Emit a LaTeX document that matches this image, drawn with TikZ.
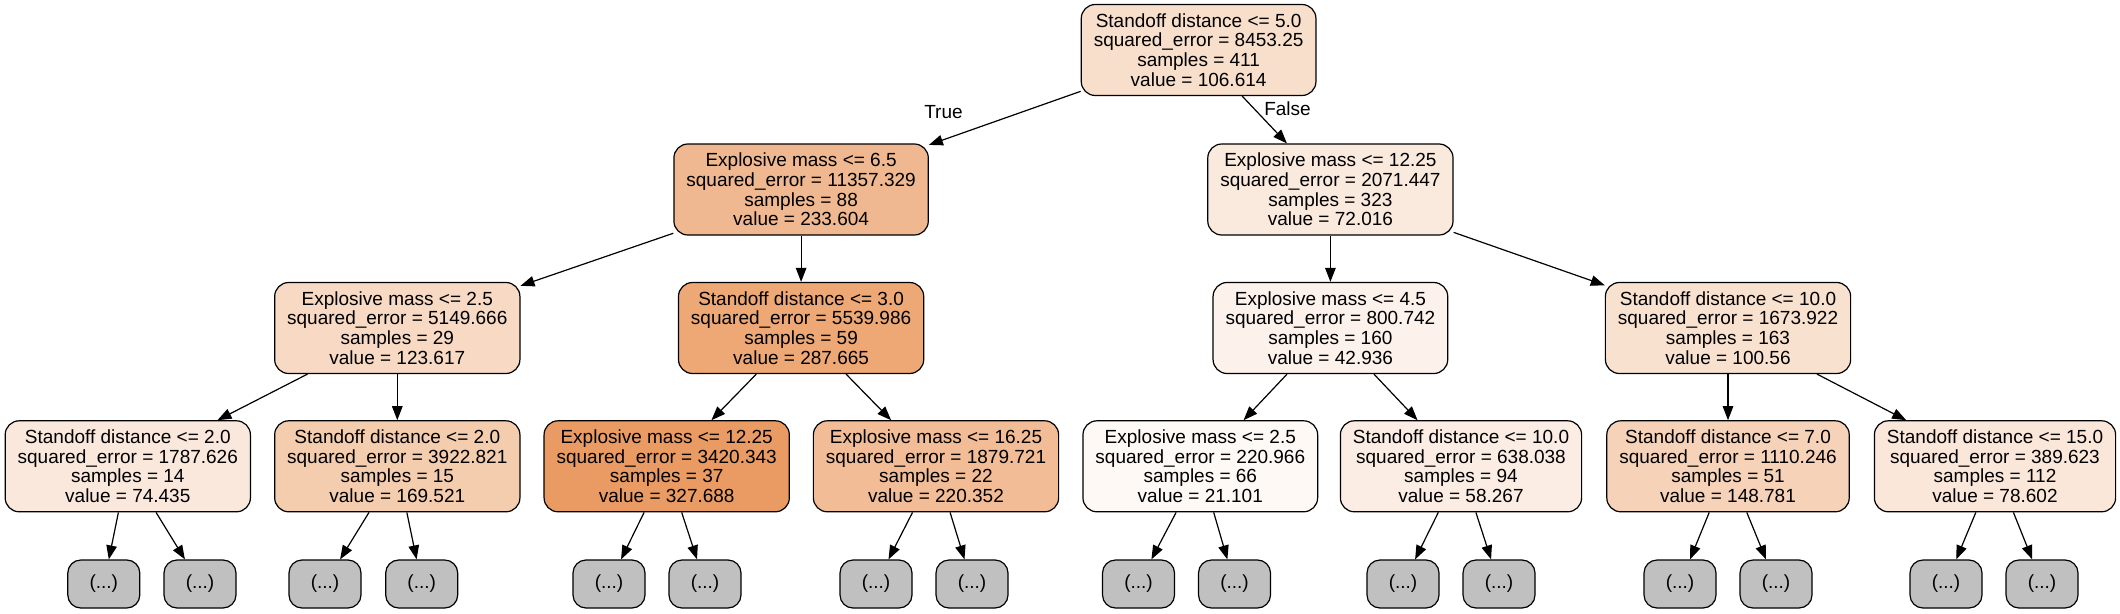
\documentclass[tikz,border=0pt]{standalone}
\usepackage{fontspec}
\setmainfont{Liberation Sans}
\usetikzlibrary{arrows.meta}
\definecolor{gvo}{RGB}{229,129,57}
\definecolor{leafgray}{RGB}{192,192,192}
\begin{document}
\begin{tikzpicture}[x=1pt,y=-1pt,
  tn/.style={draw=black, line width=1.2pt, rounded corners=14pt, align=center, inner xsep=12.5pt, minimum height=91pt, font=\fontsize{19}{19.6}\selectfont},
  leaf/.style={draw=black, line width=1.2pt, rounded corners=13pt, fill=leafgray, minimum width=72pt, minimum height=48pt, font=\fontsize{19}{19.6}\selectfont},
  conn/.style={line width=1.2pt, -{Triangle[length=14pt,width=10.5pt]}},
  lbl/.style={font=\fontsize{19}{19.6}\selectfont}]
\useasboundingbox (0,0) rectangle (2120,613);
% level 0
\node[tn, fill=gvo!25.7] (r) at (1198.6,50) {Standoff distance <= 5.0\\squared\_error = 8453.25\\samples = 411\\value = 106.614};
% level 1
\node[tn, fill=gvo!56.3] (a) at (801.1,189.5) {Explosive mass <= 6.5\\squared\_error = 11357.329\\samples = 88\\value = 233.604};
\node[tn, fill=gvo!17.4] (b) at (1330.4,189.5) {Explosive mass <= 12.25\\squared\_error = 2071.447\\samples = 323\\value = 72.016};
% level 2
\node[tn, fill=gvo!29.8] (aa) at (397.3,328) {Explosive mass <= 2.5\\squared\_error = 5149.666\\samples = 29\\value = 123.617};
\node[tn, fill=gvo!69.3] (ab) at (801.1,328) {Standoff distance <= 3.0\\squared\_error = 5539.986\\samples = 59\\value = 287.665};
\node[tn, fill=gvo!10.3] (ba) at (1330.4,328) {Explosive mass <= 4.5\\squared\_error = 800.742\\samples = 160\\value = 42.936};
\node[tn, fill=gvo!24.2] (bb) at (1728,328) {Standoff distance <= 10.0\\squared\_error = 1673.922\\samples = 163\\value = 100.56};
% level 3
\node[tn, fill=gvo!17.9] (aaa) at (127.8,466.3) {Standoff distance <= 2.0\\squared\_error = 1787.626\\samples = 14\\value = 74.435};
\node[tn, fill=gvo!40.8] (aab) at (397.3,466.3) {Standoff distance <= 2.0\\squared\_error = 3922.821\\samples = 15\\value = 169.521};
\node[tn, fill=gvo!79.0] (aba) at (666.7,466.3) {Explosive mass <= 12.25\\squared\_error = 3420.343\\samples = 37\\value = 327.688};
\node[tn, fill=gvo!53.1] (abb) at (936,466.3) {Explosive mass <= 16.25\\squared\_error = 1879.721\\samples = 22\\value = 220.352};
\node[tn, fill=gvo!5.1] (baa) at (1200.3,466.3) {Explosive mass <= 2.5\\squared\_error = 220.966\\samples = 66\\value = 21.101};
\node[tn, fill=gvo!14.0] (bab) at (1461,466.3) {Standoff distance <= 10.0\\squared\_error = 638.038\\samples = 94\\value = 58.267};
\node[tn, fill=gvo!35.9] (bba) at (1728,466.3) {Standoff distance <= 7.0\\squared\_error = 1110.246\\samples = 51\\value = 148.781};
\node[tn, fill=gvo!18.9] (bbb) at (1995,466.3) {Standoff distance <= 15.0\\squared\_error = 389.623\\samples = 112\\value = 78.602};
% level 4
\node[leaf] (l1) at (103.8,584) {(...)};
\node[leaf] (l2) at (200,584) {(...)};
\node[leaf] (l3) at (325,584) {(...)};
\node[leaf] (l4) at (421.7,584) {(...)};
\node[leaf] (l5) at (609,584) {(...)};
\node[leaf] (l6) at (705,584) {(...)};
\node[leaf] (l7) at (876,584) {(...)};
\node[leaf] (l8) at (972,584) {(...)};
\node[leaf] (l9) at (1138.5,584) {(...)};
\node[leaf] (l10) at (1234.5,584) {(...)};
\node[leaf] (l11) at (1403,584) {(...)};
\node[leaf] (l12) at (1499,584) {(...)};
\node[leaf] (l13) at (1680,584) {(...)};
\node[leaf] (l14) at (1776,584) {(...)};
\node[leaf] (l15) at (1946,584) {(...)};
\node[leaf] (l16) at (2042,584) {(...)};
% edges
\draw[conn] (r) -- (a);
\draw[conn] (r) -- (b);
\draw[conn] (a) -- (aa);
\draw[conn] (a) -- (ab);
\draw[conn] (b) -- (ba);
\draw[conn] (b) -- (bb);
\draw[conn] (aa) -- (aaa);
\draw[conn] (aa) -- (aab);
\draw[conn] (ab) -- (aba);
\draw[conn] (ab) -- (abb);
\draw[conn] (ba) -- (baa);
\draw[conn] (ba) -- (bab);
\draw[conn] (bb) -- (bba);
\draw[conn] (bb) -- (bbb);
\draw[conn] (aaa) -- (l1);
\draw[conn] (aaa) -- (l2);
\draw[conn] (aab) -- (l3);
\draw[conn] (aab) -- (l4);
\draw[conn] (aba) -- (l5);
\draw[conn] (aba) -- (l6);
\draw[conn] (abb) -- (l7);
\draw[conn] (abb) -- (l8);
\draw[conn] (baa) -- (l9);
\draw[conn] (baa) -- (l10);
\draw[conn] (bab) -- (l11);
\draw[conn] (bab) -- (l12);
\draw[conn] (bba) -- (l13);
\draw[conn] (bba) -- (l14);
\draw[conn] (bbb) -- (l15);
\draw[conn] (bbb) -- (l16);
% edge labels
\node[lbl] (tlab) at (943.5,112.5) {True};
\node[lbl] (flab) at (1287.5,109) {False};
\end{tikzpicture}
\end{document}
